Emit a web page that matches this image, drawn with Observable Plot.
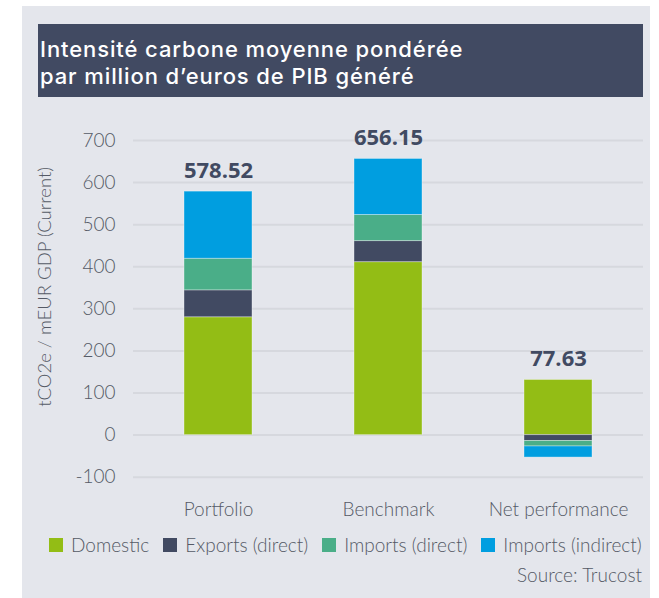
<!DOCTYPE html>
<html>
<head>
<meta charset="utf-8">
<script src="https://cdn.jsdelivr.net/npm/d3@7"></script>
<script src="https://cdn.jsdelivr.net/npm/@observablehq/plot@0.6"></script>
<style>
  body { margin: 0; background: #ffffff; font-family: Lato, "Open Sans", sans-serif; }
  #panel { position: absolute; left: 22px; top: 6px; width: 628px; height: 592px; background: #e4e6ec; }
  #title { position: absolute; left: 38px; top: 24px; width: 605px; height: 73px; background: #414a62;
           color: #ffffff; font-family: Inter, "Open Sans", sans-serif; font-size: 22px; font-weight: 500;
           letter-spacing: 0.9px; padding: 11.5px 0 0 2px; box-sizing: border-box; }
  #title div { height: 27px; line-height: 27px; white-space: nowrap; }
  #chart { position: absolute; left: 0; top: 0; }
  #legend { position: absolute; left: 49px; top: 535px; display: flex; align-items: center;
            font-size: 19px; font-weight: 300; color: #555a66; line-height: 20px; white-space: nowrap; }
  #legend .sw { width: 14px; height: 14px; margin-right: 8px; }
  #legend .item { display: flex; align-items: center; margin-right: 14px; }
  #source { position: absolute; right: 17px; top: 565px; font-size: 19px; font-weight: 300; color: #555a66; line-height: 20px; }
  g[aria-label="y-axis label"] text { font-size: 18.5px; }
</style>
</head>
<body>
<div id="panel"></div>
<div id="title"><div>Intensité carbone moyenne pondérée</div><div>par million d’euros de PIB généré</div></div>
<div id="chart"></div>
<div id="legend"></div>
<div id="source">Source: Trucost</div>
<script>
const categories = ["Portfolio", "Benchmark", "Net performance"];
const series = ["Domestic", "Exports (direct)", "Imports (direct)", "Imports (indirect)"];
const domestic = [280, 411, 131];
const exportsDirect = [64, 50, -14];
const importsDirect = [75, 62, -13];
const importsIndirect = [159.52, 133.15, -26.37];
const totals = [578.52, 656.15, 77.63];
const colors = ["#93bd15", "#414a62", "#4aae88", "#009ee0"];
const yTicks = [-100, 0, 100, 200, 300, 400, 500, 600, 700];
const yLabel = "tCO2e / mEUR GDP (Current)";

const seriesValues = [domestic, exportsDirect, importsDirect, importsIndirect];
const data = [];
categories.forEach((c, i) => {
  series.forEach((s, j) => data.push({category: c, series: s, value: seriesValues[j][i]}));
});
const totalsData = categories.map((c, i) => ({
  category: c,
  total: totals[i],
  top: d3.sum(seriesValues, v => Math.max(0, v[i]))
}));

const chart = Plot.plot({
  width: 659,
  height: 535,
  marginLeft: 133,
  marginRight: 16,
  marginTop: 140,
  marginBottom: 58.3,
  style: { background: "transparent", fontFamily: "Lato, sans-serif", color: "#555a66" },
  x: { domain: categories, paddingInner: 0.6, paddingOuter: 0.3, label: null },
  y: { domain: [-100, 700], label: yLabel },
  color: { domain: series, range: colors },
  marks: [
    Plot.gridY(yTicks, { stroke: "#d6d8de", strokeOpacity: 1, strokeWidth: 2 }),
    Plot.axisY(yTicks, { tickSize: 0, tickPadding: 18, fontSize: 19, fontWeight: 300, fill: "#555a66",
      tickFormat: d => String(d),
      label: yLabel, labelAnchor: "center", labelOffset: 96, labelArrow: "none" }),
    Plot.axisX({ tickSize: 0, tickPadding: 25, fontSize: 19, fontWeight: 300, fill: "#555a66", label: null }),
    Plot.barY(data, { x: "category", y: "value", fill: "series", stroke: "#ffffff", strokeOpacity: 0.35, strokeWidth: 1 }),
    Plot.text(totalsData, { x: "category", y: "top", text: d => d.total.toFixed(2), dy: -14, lineAnchor: "bottom",
      fontFamily: "Open Sans, sans-serif", fontSize: 22, fontWeight: 700, fill: "#414a62" })
  ]
});
// shift the rotated y-axis label upward along its own direction, as in the reference
d3.select(chart).selectAll('g[aria-label="y-axis label"] text').attr("dx", 22);
document.getElementById("chart").appendChild(chart);

const legend = document.getElementById("legend");
series.forEach((s, j) => {
  const item = document.createElement("span");
  item.className = "item";
  const sw = document.createElement("span");
  sw.className = "sw";
  sw.style.background = colors[j];
  const lab = document.createElement("span");
  lab.textContent = s;
  item.appendChild(sw);
  item.appendChild(lab);
  legend.appendChild(item);
});
</script>
</body>
</html>
